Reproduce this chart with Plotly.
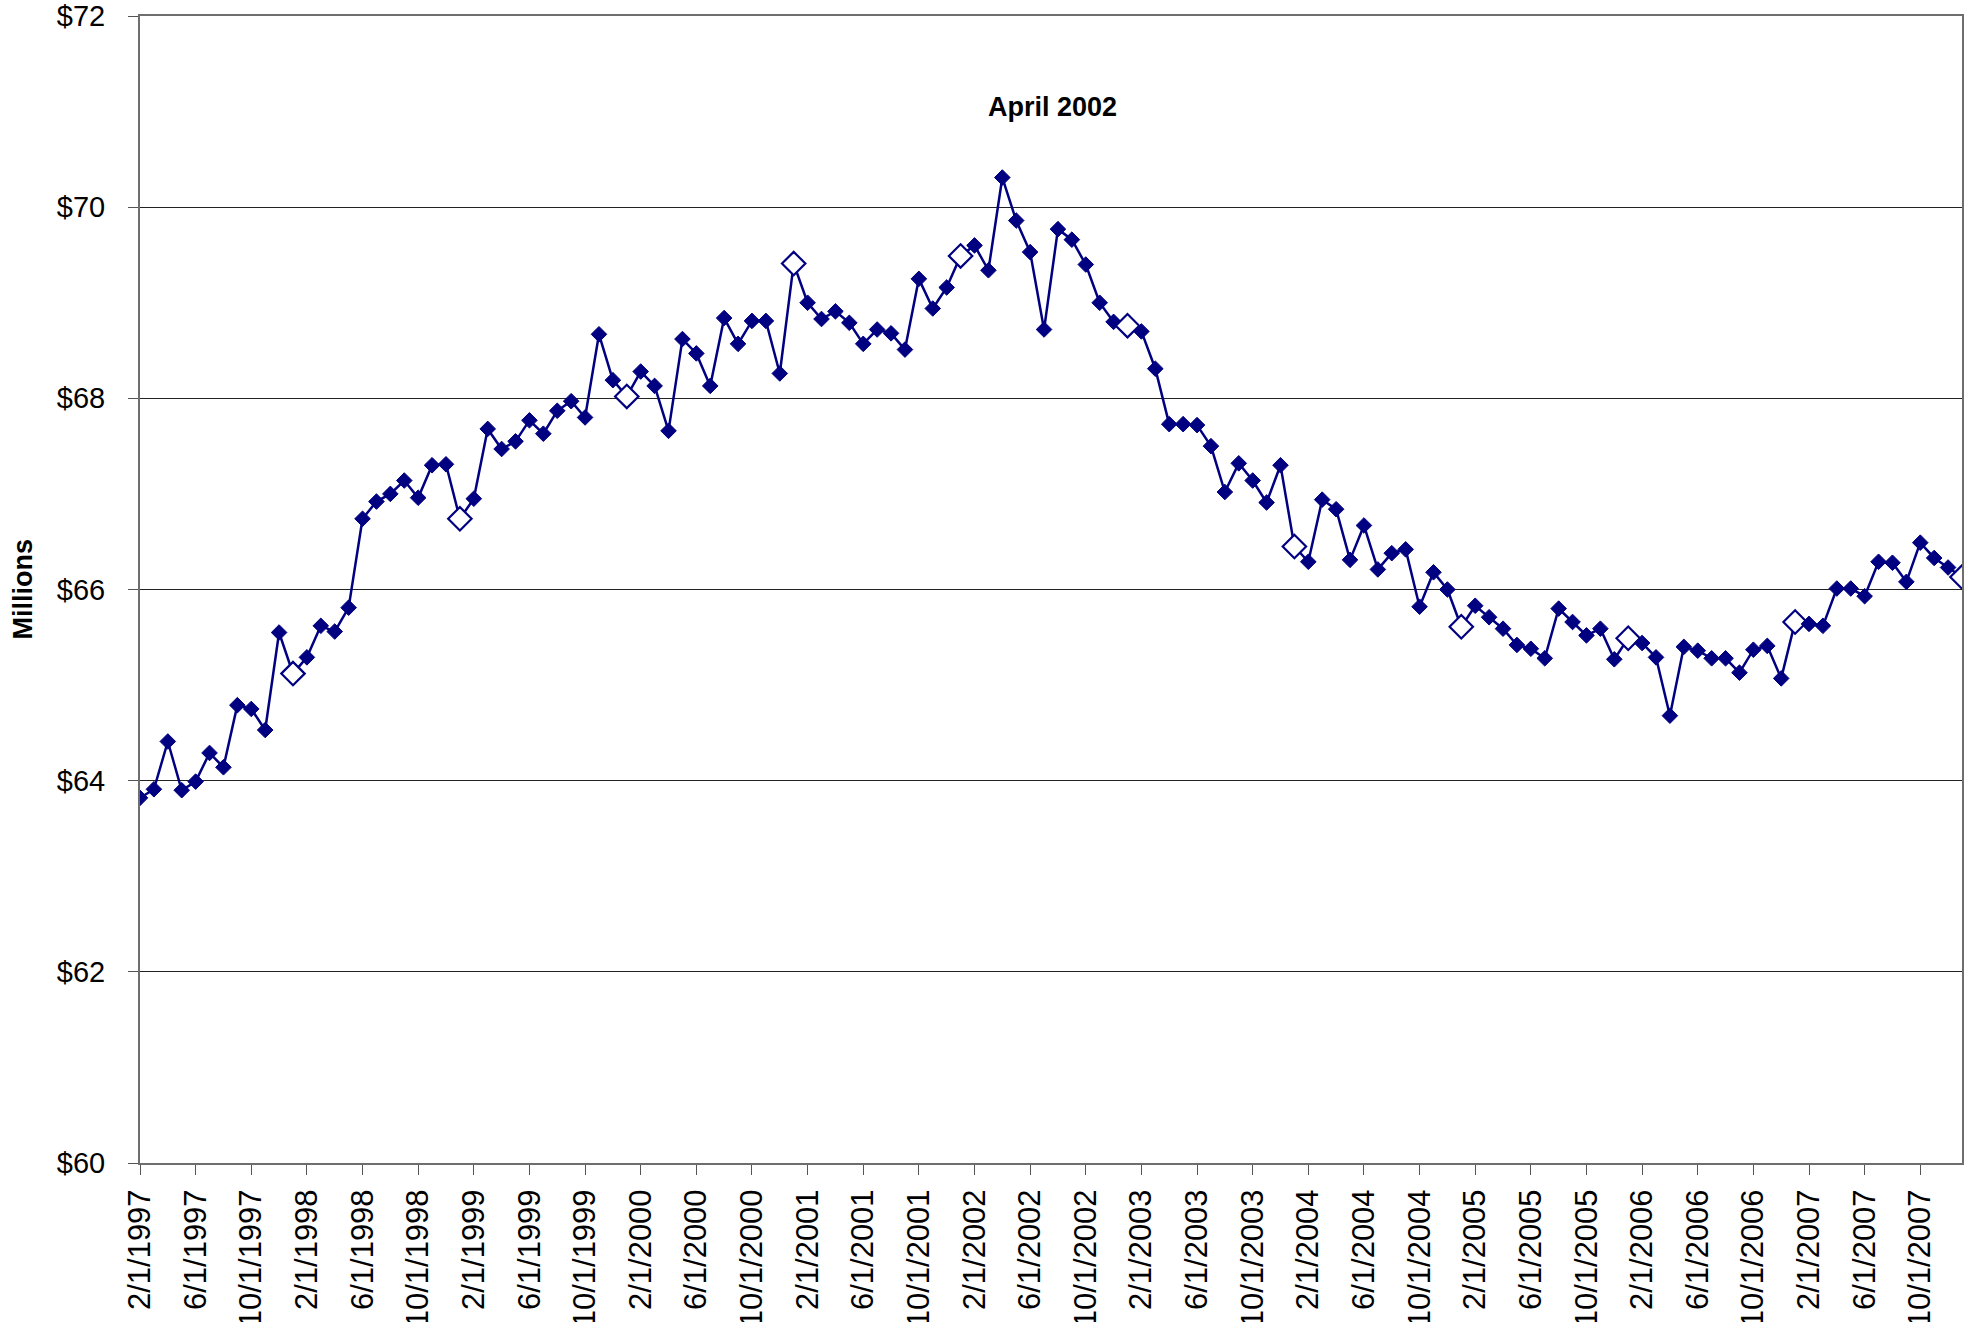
import pandas as pd
import plotly.graph_objects as go

# monthly values, Feb 1997 .. Jan 2008 ($ millions)
values_1997 = [63.82, 63.91, 64.41, 63.90, 63.99, 64.29, 64.14, 64.79, 64.75, 64.53, 65.55]
values_1998 = [65.12, 65.29, 65.62, 65.56, 65.81, 66.74, 66.92, 67.00, 67.14, 66.96, 67.30, 67.31]
values_1999 = [66.74, 66.95, 67.68, 67.47, 67.55, 67.77, 67.63, 67.87, 67.97, 67.80, 68.67, 68.19]
values_2000 = [68.02, 68.28, 68.13, 67.66, 68.62, 68.47, 68.13, 68.84, 68.57, 68.81, 68.81, 68.26]
values_2001 = [69.41, 69.00, 68.83, 68.91, 68.79, 68.57, 68.72, 68.68, 68.51, 69.25, 68.94, 69.16]
values_2002 = [69.49, 69.60, 69.34, 70.31, 69.86, 69.53, 68.72, 69.77, 69.66, 69.40, 69.00, 68.80]
values_2003 = [68.76, 68.70, 68.31, 67.73, 67.73, 67.72, 67.50, 67.02, 67.32, 67.14, 66.91, 67.30]
values_2004 = [66.45, 66.29, 66.94, 66.84, 66.31, 66.67, 66.21, 66.38, 66.42, 65.82, 66.18, 66.00]
values_2005 = [65.61, 65.83, 65.71, 65.59, 65.42, 65.38, 65.28, 65.80, 65.66, 65.52, 65.59, 65.27]
values_2006 = [65.49, 65.44, 65.29, 64.68, 65.40, 65.36, 65.28, 65.28, 65.13, 65.37, 65.41, 65.07]
values_2007 = [65.66, 65.64, 65.62, 66.01, 66.01, 65.93, 66.29, 66.28, 66.08, 66.49, 66.33, 66.23]
values_2008 = [66.13]

values = (values_1997 + values_1998 + values_1999 + values_2000 + values_2001 + values_2002
          + values_2003 + values_2004 + values_2005 + values_2006 + values_2007 + values_2008)

months = pd.date_range("1997-02-01", periods=len(values), freq="MS")
labels = [f"{d.month}/1/{d.year}" for d in months]

NAVY = "#000080"
FONT = "Liberation Sans, Arial, sans-serif"

# January points drawn as large open diamonds
is_jan = [d.month == 1 for d in months]
marker_color = ["white" if j else NAVY for j in is_jan]
marker_size = [18 if j else 12 for j in is_jan]
marker_lw = [2.2 if j else 1 for j in is_jan]

fig = go.Figure()
fig.add_trace(go.Scatter(
    x=labels,
    y=values,
    mode="lines+markers",
    line=dict(color=NAVY, width=2.5),
    marker=dict(symbol="diamond", color=marker_color, size=marker_size, opacity=1,
                line=dict(color=NAVY, width=marker_lw)),
    showlegend=False,
))

fig.add_annotation(
    x=0.501, xref="paper", y=71.05, yref="y",
    text="<b>April 2002</b>", showarrow=False,
    font=dict(size=27, color="black", family=FONT),
)

# y axis title as a rotated note, placed nearer the tick labels than the margin allows
fig.add_annotation(
    x=0, xref="paper", xanchor="center", xshift=-118, y=0.5, yref="paper",
    text="<b>Millions</b>", textangle=-90, showarrow=False,
    font=dict(size=27, color="black", family=FONT),
)

fig.update_layout(
    width=1965, height=1322,
    margin=dict(l=140, r=3, t=16, b=159),
    paper_bgcolor="white", plot_bgcolor="white",
    font=dict(family=FONT, size=28, color="black"),
)
fig.update_xaxes(
    type="category",
    range=[0, len(values) - 1],
    tickvals=labels[::4],
    tickangle=-90,
    ticks="outside", ticklen=10, tickcolor="#555555",
    showgrid=False,
    showline=True, linecolor="#6e6e6e", linewidth=2, mirror=True,
    tickfont=dict(size=31),
    ticklabelstandoff=2,
    ticklabeloverflow="allow",
    automargin=False,
)
fig.update_yaxes(
    range=[60, 72], dtick=2, tickprefix="$",
    ticks="outside", ticklen=10, tickcolor="#555555",
    showgrid=True, gridcolor="#222222", gridwidth=1,
    showline=True, linecolor="#6e6e6e", linewidth=2, mirror=True,
    zeroline=False,
    tickfont=dict(size=29),
    ticklabelstandoff=17,
    ticklabeloverflow="allow",
    automargin=False,
)

# drop the default 8px page margin so the figure fills the window
fig.write_html("out.html", config={"displayModeBar": False},
               post_script="document.body.style.margin = '0';")
